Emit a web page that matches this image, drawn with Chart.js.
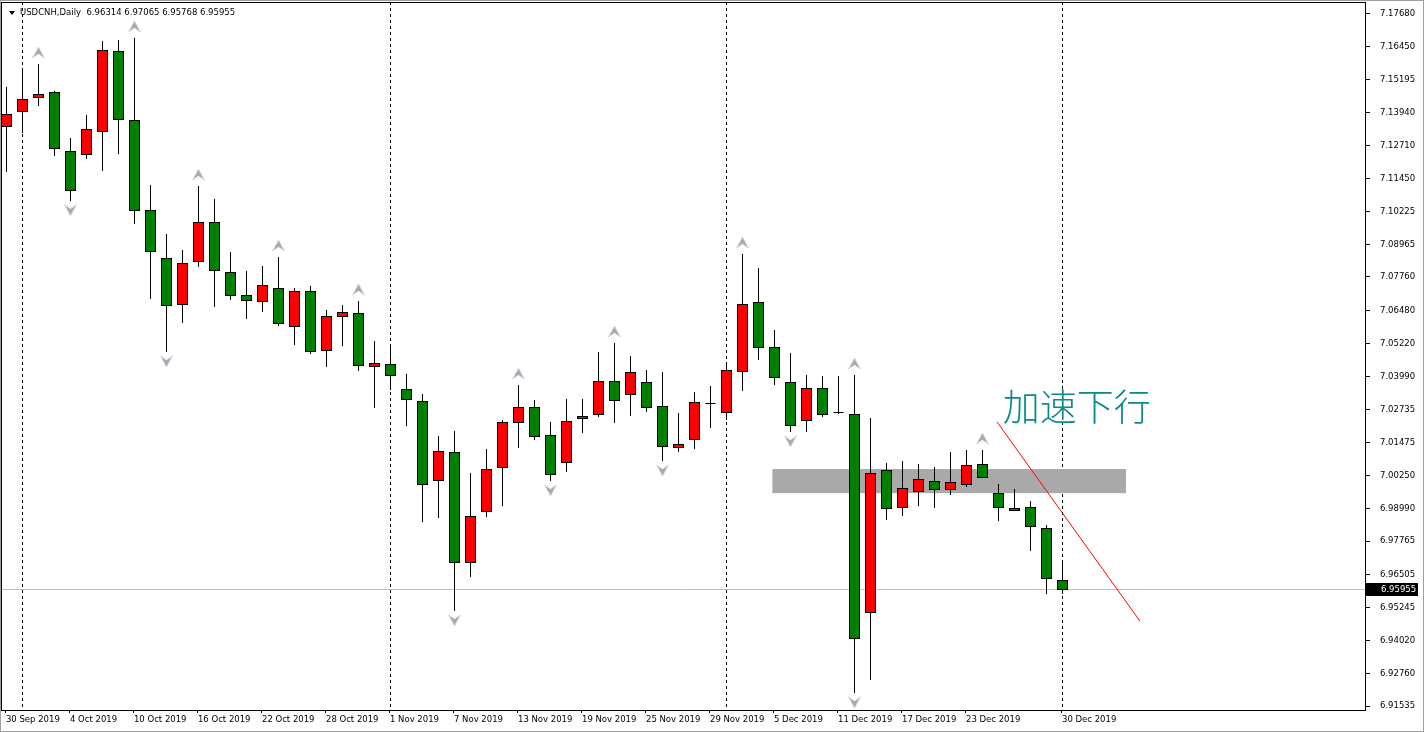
<!DOCTYPE html>
<html><head><meta charset="utf-8">
<script src="https://cdn.jsdelivr.net/npm/chart.js@4"></script>
<style>html,body{margin:0;padding:0;background:#fff}#wrap{width:1424px;height:732px;position:relative}</style>
</head><body><div id="wrap"><canvas id="c" width="1424" height="732"></canvas></div>
<script>
const categories = ["30 Sep 2019","1 Oct 2019","2 Oct 2019","3 Oct 2019","4 Oct 2019","7 Oct 2019","8 Oct 2019","9 Oct 2019","10 Oct 2019","11 Oct 2019","14 Oct 2019","15 Oct 2019","16 Oct 2019","17 Oct 2019","18 Oct 2019","21 Oct 2019","22 Oct 2019","23 Oct 2019","24 Oct 2019","25 Oct 2019","28 Oct 2019","29 Oct 2019","30 Oct 2019","31 Oct 2019","1 Nov 2019","4 Nov 2019","5 Nov 2019","6 Nov 2019","7 Nov 2019","8 Nov 2019","11 Nov 2019","12 Nov 2019","13 Nov 2019","14 Nov 2019","15 Nov 2019","18 Nov 2019","19 Nov 2019","20 Nov 2019","21 Nov 2019","22 Nov 2019","25 Nov 2019","26 Nov 2019","27 Nov 2019","28 Nov 2019","29 Nov 2019","2 Dec 2019","3 Dec 2019","4 Dec 2019","5 Dec 2019","6 Dec 2019","9 Dec 2019","10 Dec 2019","11 Dec 2019","12 Dec 2019","13 Dec 2019","16 Dec 2019","17 Dec 2019","18 Dec 2019","19 Dec 2019","20 Dec 2019","23 Dec 2019","24 Dec 2019","26 Dec 2019","27 Dec 2019","30 Dec 2019","31 Dec 2019","2 Jan 2020"];
const openP  = [7.1345,7.1402,7.1454,7.1473,7.1250,7.1239,7.1326,7.1628,7.1368,7.1028,7.0846,7.0672,7.0835,7.0982,7.0793,7.0706,7.0684,7.0733,7.0589,7.0722,7.0499,7.0627,7.0638,7.0438,7.0446,7.0351,7.0306,7.0008,7.0113,6.9698,6.9890,7.0057,7.0227,7.0283,7.0178,7.0076,7.0242,7.0257,7.0382,7.0332,7.0378,7.0287,7.0132,7.0162,7.0298,7.0264,7.0419,7.0680,7.0510,7.0378,7.0234,7.0355,7.0264,7.0257,6.9509,7.0045,6.9905,6.9966,7.0004,6.9973,6.9992,7.0068,6.9958,6.9902,6.9905,6.9826,6.96314];
const highP  = [7.1492,7.1556,7.1579,7.1477,7.1300,7.1386,7.1666,7.1670,7.1677,7.1122,7.0937,7.0876,7.1118,7.1069,7.0869,7.0797,7.0816,7.0850,7.0733,7.0740,7.0650,7.0669,7.0684,7.0533,7.0514,7.0408,7.0332,7.0174,7.0193,7.0034,7.0125,7.0234,7.0366,7.0310,7.0227,7.0314,7.0314,7.0491,7.0525,7.0476,7.0423,7.0416,7.0261,7.0340,7.0363,7.0446,7.0861,7.0808,7.0574,7.0487,7.0404,7.0400,7.0400,7.0404,7.0242,7.0072,7.0079,7.0068,7.0057,7.0113,7.0121,7.0121,6.9992,6.9973,6.9928,6.9837,6.97065];
const lowP   = [7.1171,7.1318,7.1420,7.1232,7.1062,7.1220,7.1175,7.1239,7.0975,7.0691,7.0491,7.0601,7.0812,7.0661,7.0688,7.0616,7.0642,7.0589,7.0518,7.0484,7.0434,7.0514,7.0419,7.0280,7.0348,7.0212,6.9849,6.9864,6.9513,6.9641,6.9868,6.9909,7.0128,7.0159,7.0004,7.0038,7.0185,7.0246,7.0223,7.0249,7.0264,7.0079,7.0113,7.0125,7.0204,7.0234,7.0344,7.0461,7.0366,7.0189,7.0189,7.0246,7.0257,6.9203,6.9252,6.9856,6.9871,6.9909,6.9902,6.9951,6.9981,7.0015,6.9853,6.9894,6.9739,6.9577,6.95768];
const closeP = [7.1390,7.1447,7.1466,7.1262,7.1103,7.1334,7.1632,7.1371,7.1028,7.0873,7.0669,7.0827,7.0982,7.0801,7.0706,7.0688,7.0744,7.0601,7.0722,7.0495,7.0627,7.0642,7.0442,7.0450,7.0404,7.0314,6.9992,7.0117,6.9698,6.9871,7.0049,7.0227,7.0283,7.0174,7.0030,7.0230,7.0249,7.0382,7.0310,7.0416,7.0283,7.0136,7.0144,7.0302,7.0298,7.0423,7.0672,7.0510,7.0397,7.0215,7.0355,7.0257,7.0264,6.9410,7.0034,6.9902,6.9977,7.0011,6.9973,7.0000,7.0064,7.0019,6.9905,6.9894,6.9834,6.9637,6.95955];
const priceTicks = [7.17680,7.16450,7.15195,7.13940,7.12710,7.11450,7.10225,7.08965,7.07760,7.06480,7.05220,7.03990,7.02735,7.01475,7.00250,6.98990,6.97765,6.96505,6.95245,6.94020,6.92760,6.91535];
const dateTickIdx = [0,4,8,12,16,20,24,28,32,36,40,44,48,52,56,60,64];
const dateTickShift = {64:66};
const separatorIdx = [1,24,45,66];
const fractalUp = [2,8,12,17,22,32,38,46,53,61];
const fractalDown = [4,10,28,34,41,49,53];
const zoneX = [47.9,70.0], zoneP = [7.0049,6.9958];
const trendX = [61.94,70.87], trendP = [7.0227,6.9475];
const noteText = "加速下行", noteX = 62.3, notePrice = 7.0232;
const header = "USDCNH,Daily  6.96314 6.97065 6.95768 6.95955";
const lastPrice = 6.95955;

const candlePlugin = {
  id:'candles',
  beforeDatasetsDraw(chart){
    const {ctx, chartArea:a, scales:{x,y}} = chart;
    ctx.save();
    ctx.beginPath(); ctx.rect(a.left,a.top,a.right-a.left,a.bottom-a.top); ctx.clip();
    ctx.strokeStyle='#000'; ctx.lineWidth=1; ctx.setLineDash([3,3]);
    separatorIdx.forEach(i=>{const px=Math.round(x.getPixelForValue(i))+0.5;ctx.beginPath();ctx.moveTo(px,a.top);ctx.lineTo(px,a.bottom);ctx.stroke();});
    ctx.setLineDash([]);
    ctx.fillStyle='#a9a9a9';
    const zx1=x.getPixelForValue(zoneX[0]), zx2=x.getPixelForValue(zoneX[1]);
    const zy1=y.getPixelForValue(zoneP[0]), zy2=y.getPixelForValue(zoneP[1]);
    ctx.fillRect(zx1,zy1,zx2-zx1,zy2-zy1);
    const ly=Math.round(y.getPixelForValue(lastPrice))+0.5;
    ctx.strokeStyle='#c0c0c0'; ctx.beginPath(); ctx.moveTo(a.left,ly); ctx.lineTo(a.right,ly); ctx.stroke();
    for(let i=0;i<openP.length;i++){
      const px=Math.round(x.getPixelForValue(i))+0.5;
      const yo=Math.round(y.getPixelForValue(openP[i])), yc=Math.round(y.getPixelForValue(closeP[i]));
      const yh=Math.round(y.getPixelForValue(highP[i])), yl=Math.round(y.getPixelForValue(lowP[i]));
      ctx.strokeStyle='#000'; ctx.lineWidth=1;
      ctx.beginPath(); ctx.moveTo(px,yh); ctx.lineTo(px,yl); ctx.stroke();
      const top=Math.min(yo,yc), bot=Math.max(yo,yc);
      if(bot-top<1){ ctx.beginPath(); ctx.moveTo(px-5,top+0.5); ctx.lineTo(px+5,top+0.5); ctx.stroke(); continue; }
      ctx.fillStyle = closeP[i]>openP[i] ? '#ff0000' : '#008000';
      ctx.fillRect(px-5,top+0.5,10,bot-top);
      ctx.strokeRect(px-5,top+0.5,10,bot-top);
    }
    const chevron=(cx,cy,up)=>{
      const s=up?-1:1;
      ctx.fillStyle='#a8a8a8'; ctx.strokeStyle='#d8d8e8';
      ctx.beginPath(); ctx.moveTo(cx,cy+s*6); ctx.lineTo(cx-6,cy-s*5); ctx.lineTo(cx,cy-s*1); ctx.lineTo(cx+6,cy-s*5); ctx.closePath(); ctx.fill(); ctx.stroke();
    };
    fractalUp.forEach(i=>chevron(Math.round(x.getPixelForValue(i))+0.5, y.getPixelForValue(highP[i])-11, true));
    fractalDown.forEach(i=>chevron(Math.round(x.getPixelForValue(i))+0.5, y.getPixelForValue(lowP[i])+9, false));
    ctx.strokeStyle='#ff0000'; ctx.lineWidth=1;
    ctx.beginPath(); ctx.moveTo(x.getPixelForValue(trendX[0]),y.getPixelForValue(trendP[0])); ctx.lineTo(x.getPixelForValue(trendX[1]),y.getPixelForValue(trendP[1])); ctx.stroke();
    ctx.fillStyle='#0a8a8e'; ctx.font='300 37px "Noto Sans CJK SC"'; ctx.textBaseline='alphabetic'; ctx.textAlign='left';
    ctx.fillText(noteText, x.getPixelForValue(noteX), y.getPixelForValue(notePrice));
    ctx.restore();
  },
  afterDraw(chart){
    const {ctx, chartArea:a, scales:{y}} = chart;
    ctx.save();
    ctx.strokeStyle='#000'; ctx.lineWidth=1;
    ctx.strokeRect(a.left+0.5,a.top+0.5,a.right-a.left-1,a.bottom-a.top);
    ctx.strokeStyle='#a0a0a0'; ctx.strokeRect(0.5,0.5,1423,731);
    ctx.fillStyle='#000'; ctx.font='8.5px "DejaVu Sans"'; ctx.textBaseline='middle';
    ctx.beginPath(); ctx.moveTo(9,11); ctx.lineTo(15,11); ctx.lineTo(12,15); ctx.closePath(); ctx.fill();
    ctx.fillText(header, 20, 13);
    const ly=Math.round(y.getPixelForValue(lastPrice));
    ctx.fillStyle='#000'; ctx.fillRect(a.right,ly-6,52,13);
    ctx.fillStyle='#fff'; ctx.font='8.5px "DejaVu Sans"'; ctx.textAlign='left';
    ctx.fillText(lastPrice.toFixed(5), a.right+15, ly+1);
    ctx.restore();
  }
};

new Chart(document.getElementById('c'),{
  type:'line',
  data:{datasets:[{data:closeP.map((v,i)=>({x:i,y:v})),showLine:false,pointRadius:0}]},
  options:{
    responsive:false, animation:false,
    layout:{padding:{top:2,left:1,right:0,bottom:0}},
    plugins:{legend:{display:false},tooltip:{enabled:false}},
    scales:{
      x:{type:'linear',min:-0.31,max:85,
        afterFit(s){s.height=22;s.paddingLeft=0;s.paddingRight=0;},
        afterBuildTicks(s){s.ticks=dateTickIdx.map(v=>({value:dateTickShift[v]??v}));},
        grid:{drawOnChartArea:false,tickLength:3,color:'#000'},border:{display:false},
        ticks:{autoSkip:false,maxRotation:0,align:'start',padding:2,color:'#000',font:{family:'DejaVu Sans',size:8.5},
          callback:(v)=>{const k=Object.keys(dateTickShift).find(q=>dateTickShift[q]===v);return categories[k!==undefined?+k:v];}}},
      y:{position:'right',min:6.9139,max:7.1813,
        afterFit(s){s.width=58;s.paddingTop=0;s.paddingBottom=0;},
        afterBuildTicks(s){s.ticks=priceTicks.map(v=>({value:v}));},
        grid:{drawOnChartArea:false,tickLength:4,color:'#000'},border:{display:false},
        ticks:{padding:10,color:'#000',font:{family:'DejaVu Sans',size:8.5},callback:v=>v.toFixed(5)}}
    }
  },
  plugins:[candlePlugin]
});
</script></body></html>
